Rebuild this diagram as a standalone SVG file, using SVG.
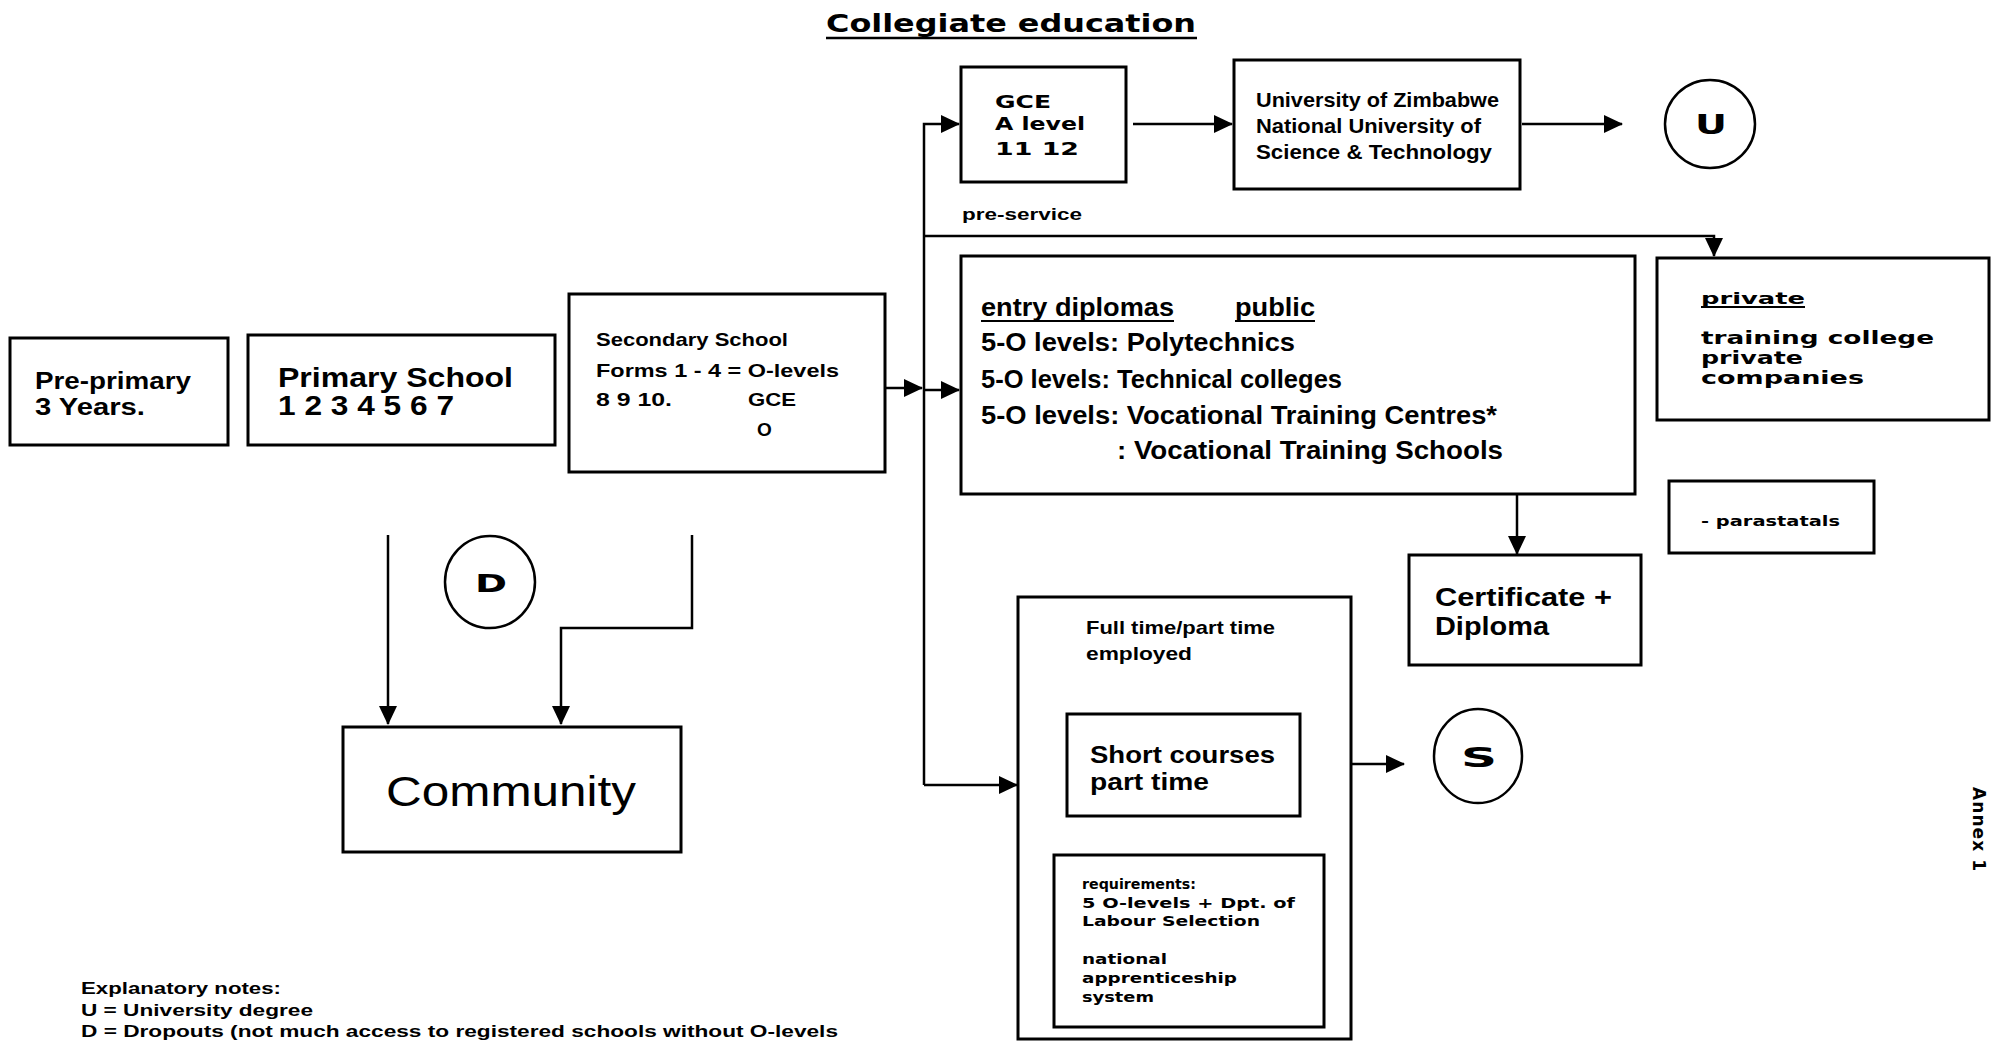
<svg xmlns="http://www.w3.org/2000/svg" width="2006" height="1044" viewBox="0 0 2006 1044">
<defs>
<marker id="ah" markerUnits="userSpaceOnUse" markerWidth="20" markerHeight="18" refX="18" refY="9" orient="auto">
<path d="M0,0 L19,9 L0,18 Z" fill="#000"/>
</marker>
<style>
.box{fill:#fff;stroke:#000;stroke-width:3}
.ell{fill:#fff;stroke:#000;stroke-width:2.5}
.c{fill:none;stroke:#000;stroke-width:2.5}
.ca{fill:none;stroke:#000;stroke-width:2.5;marker-end:url(#ah)}
text{font-family:"Liberation Sans",Arial,sans-serif;font-weight:bold;fill:#000}
.wide{font-family:"DejaVu Sans","Liberation Sans",sans-serif;font-weight:bold}
</style>
</defs>
<rect width="2006" height="1044" fill="#fff"/>

<g id="title">
<text class="wide" x="826" y="32" font-size="25" textLength="370" lengthAdjust="spacingAndGlyphs">Collegiate education</text>
<line x1="826" y1="38" x2="1197" y2="38" stroke="#000" stroke-width="2.5"/>
</g>

<g id="connectors">
<path class="ca" d="M1133,124 H1232"/>
<path class="ca" d="M1522,124 H1622"/>
<path class="ca" d="M885,388 H922"/>
<path class="ca" d="M924,785 V124 H959"/>
<path class="ca" d="M924,785 H1017"/>
<path class="ca" d="M924,390 H959"/>
<path class="ca" d="M924,236 H1714 V256"/>
<path class="ca" d="M1517,494 V554"/>
<path class="ca" d="M1305,764 H1404"/>
<path class="ca" d="M388,535 V724"/>
<path class="ca" d="M692,535 V628 H561 V724"/>
</g>

<g id="pre-primary">
<rect class="box" x="10" y="338" width="218" height="107"/>
<text x="35" y="389" font-size="23" textLength="156" lengthAdjust="spacingAndGlyphs">Pre-primary</text>
<text x="35" y="415" font-size="23" textLength="110" lengthAdjust="spacingAndGlyphs">3 Years.</text>
</g>

<g id="primary">
<rect class="box" x="248" y="335" width="307" height="110"/>
<text x="278" y="387" font-size="28" textLength="235" lengthAdjust="spacingAndGlyphs">Primary School</text>
<text x="278" y="415" font-size="27" textLength="176" lengthAdjust="spacingAndGlyphs">1 2 3 4 5 6 7</text>
</g>

<g id="secondary">
<rect class="box" x="569" y="294" width="316" height="178"/>
<text x="596" y="346" font-size="19" textLength="192" lengthAdjust="spacingAndGlyphs">Secondary School</text>
<text x="596" y="377" font-size="19" textLength="243" lengthAdjust="spacingAndGlyphs">Forms 1 - 4 = O-levels</text>
<text x="596" y="406" font-size="19" textLength="76" lengthAdjust="spacingAndGlyphs">8 9 10.</text>
<text x="748" y="406" font-size="19" textLength="48" lengthAdjust="spacingAndGlyphs">GCE</text>
<text x="757" y="436" font-size="19">O</text>
</g>

<g id="gce-a">
<rect class="box" x="961" y="67" width="165" height="115"/>
<text class="wide" x="995" y="108" font-size="17" textLength="56" lengthAdjust="spacingAndGlyphs">GCE</text>
<text class="wide" x="995" y="130" font-size="17" textLength="90" lengthAdjust="spacingAndGlyphs">A level</text>
<text class="wide" x="995" y="155" font-size="17" textLength="84" lengthAdjust="spacingAndGlyphs">11  12</text>
</g>

<g id="university">
<rect class="box" x="1234" y="60" width="286" height="129"/>
<text x="1256" y="107" font-size="21" textLength="243" lengthAdjust="spacingAndGlyphs">University of Zimbabwe</text>
<text x="1256" y="133" font-size="21" textLength="225" lengthAdjust="spacingAndGlyphs">National University of</text>
<text x="1256" y="159" font-size="21" textLength="236" lengthAdjust="spacingAndGlyphs">Science &amp; Technology</text>
</g>

<g id="u">
<ellipse class="ell" cx="1710" cy="124" rx="45" ry="44"/>
<text class="wide" x="1711" y="134" font-size="26" text-anchor="middle" textLength="32" lengthAdjust="spacingAndGlyphs">U</text>
</g>

<g id="pre-service">
<text x="962" y="220" font-size="17" textLength="120" lengthAdjust="spacingAndGlyphs">pre-service</text>
</g>

<g id="public">
<rect class="box" x="961" y="256" width="674" height="238"/>
<text x="981" y="316" font-size="26" textLength="193" lengthAdjust="spacingAndGlyphs">entry diplomas</text>
<line x1="981" y1="321" x2="1174" y2="321" stroke="#000" stroke-width="2"/>
<text x="1235" y="316" font-size="26" textLength="80" lengthAdjust="spacingAndGlyphs">public</text>
<line x1="1235" y1="321" x2="1315" y2="321" stroke="#000" stroke-width="2"/>
<text x="981" y="351" font-size="26" textLength="314" lengthAdjust="spacingAndGlyphs">5-O levels: Polytechnics</text>
<text x="981" y="388" font-size="26" textLength="361" lengthAdjust="spacingAndGlyphs">5-O levels: Technical colleges</text>
<text x="981" y="424" font-size="26" textLength="516" lengthAdjust="spacingAndGlyphs">5-O levels: Vocational Training Centres*</text>
<text x="1117" y="459" font-size="26" textLength="386" lengthAdjust="spacingAndGlyphs">: Vocational Training Schools</text>
</g>

<g id="private">
<rect class="box" x="1657" y="258" width="332" height="162"/>
<text class="wide" x="1701" y="304" font-size="16" textLength="104" lengthAdjust="spacingAndGlyphs">private</text>
<line x1="1701" y1="307" x2="1805" y2="307" stroke="#000" stroke-width="2"/>
<text class="wide" x="1701" y="344" font-size="17" textLength="233" lengthAdjust="spacingAndGlyphs">training college</text>
<text class="wide" x="1701" y="364" font-size="17" textLength="102" lengthAdjust="spacingAndGlyphs">private</text>
<text class="wide" x="1701" y="384" font-size="17" textLength="163" lengthAdjust="spacingAndGlyphs">companies</text>
</g>

<g id="parastatals">
<rect class="box" x="1669" y="481" width="205" height="72"/>
<text class="wide" x="1701" y="526" font-size="14" textLength="139" lengthAdjust="spacingAndGlyphs">- parastatals</text>
</g>

<g id="certificate">
<rect class="box" x="1409" y="555" width="232" height="110"/>
<text x="1435" y="606" font-size="25" textLength="177" lengthAdjust="spacingAndGlyphs">Certificate +</text>
<text x="1435" y="635" font-size="25" textLength="114" lengthAdjust="spacingAndGlyphs">Diploma</text>
</g>

<g id="fulltime">
<rect class="box" x="1018" y="597" width="333" height="442"/>
<text x="1086" y="634" font-size="19" textLength="189" lengthAdjust="spacingAndGlyphs">Full time/part time</text>
<text x="1086" y="660" font-size="19" textLength="106" lengthAdjust="spacingAndGlyphs">employed</text>
</g>

<g id="short-courses">
<rect class="box" x="1067" y="714" width="233" height="102"/>
<text x="1090" y="763" font-size="24" textLength="185" lengthAdjust="spacingAndGlyphs">Short courses</text>
<text x="1090" y="790" font-size="24" textLength="119" lengthAdjust="spacingAndGlyphs">part time</text>
</g>

<g id="s">
<ellipse class="ell" cx="1478" cy="756" rx="44" ry="47"/>
<text class="wide" x="1479" y="767" font-size="26" text-anchor="middle" textLength="36" lengthAdjust="spacingAndGlyphs">S</text>
</g>

<g id="requirements">
<rect class="box" x="1054" y="855" width="270" height="172"/>
<text class="wide" x="1082" y="889" font-size="14" textLength="114" lengthAdjust="spacingAndGlyphs">requirements:</text>
<text class="wide" x="1082" y="908" font-size="14" textLength="213" lengthAdjust="spacingAndGlyphs">5 O-levels + Dpt. of</text>
<text class="wide" x="1082" y="926" font-size="14" textLength="178" lengthAdjust="spacingAndGlyphs">Labour Selection</text>
<text class="wide" x="1082" y="964" font-size="14" textLength="85" lengthAdjust="spacingAndGlyphs">national</text>
<text class="wide" x="1082" y="983" font-size="14" textLength="155" lengthAdjust="spacingAndGlyphs">apprenticeship</text>
<text class="wide" x="1082" y="1002" font-size="14" textLength="72" lengthAdjust="spacingAndGlyphs">system</text>
</g>

<g id="d">
<ellipse class="ell" cx="490" cy="582" rx="45" ry="46"/>
<text class="wide" x="491" y="592" font-size="24" text-anchor="middle" textLength="32" lengthAdjust="spacingAndGlyphs">D</text>
</g>

<g id="community">
<rect class="box" x="343" y="727" width="338" height="125"/>
<text x="386" y="806" font-size="42" style="font-weight:normal" textLength="250" lengthAdjust="spacingAndGlyphs">Community</text>
</g>

<g id="notes">
<text x="81" y="994" font-size="17" textLength="200" lengthAdjust="spacingAndGlyphs">Explanatory notes:</text>
<text x="81" y="1016" font-size="17" textLength="232" lengthAdjust="spacingAndGlyphs">U = University degree</text>
<text x="81" y="1037" font-size="17" textLength="757" lengthAdjust="spacingAndGlyphs">D = Dropouts (not much access to registered schools without O-levels</text>
</g>

<g id="annex">
<text class="wide" x="1973" y="787" font-size="17" transform="rotate(90 1973 787)" textLength="84" lengthAdjust="spacing">Annex 1</text>
</g>
</svg>
